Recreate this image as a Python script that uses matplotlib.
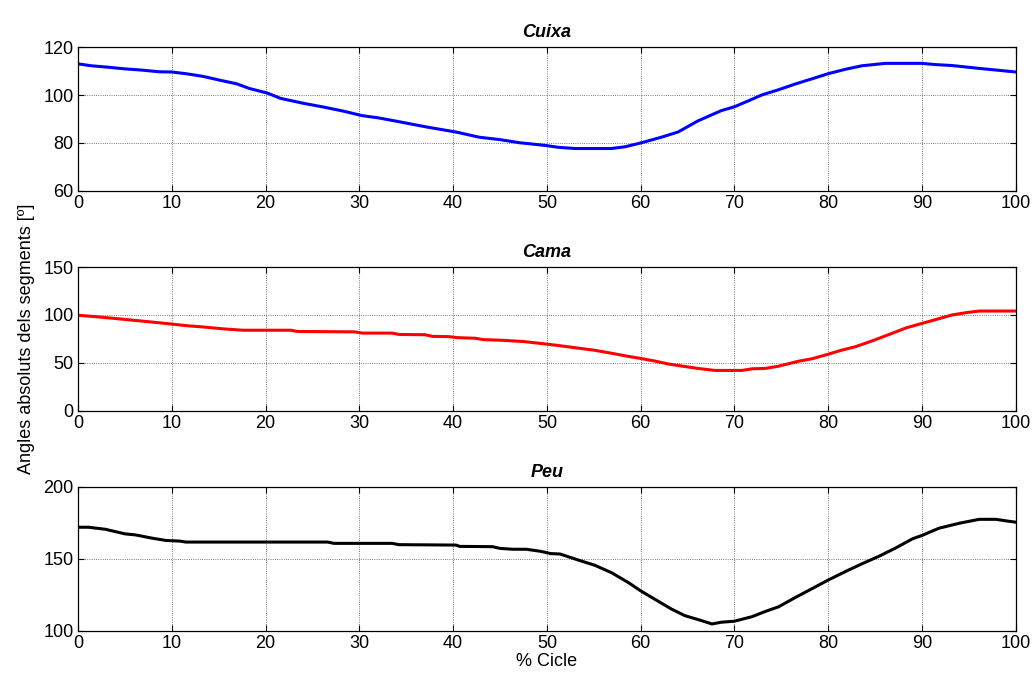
'''
Angles absoluts dels segments (cuixa, cama, peu) durant el cicle.
'''
import matplotlib
matplotlib.use('Agg')
import matplotlib.pyplot as plt

# Cuixa
cuixa_x = [0, 1.4, 3.2, 5, 6.8, 8.6, 10, 11.5, 13.3, 15.1, 16.9, 18.3, 20.2,
           21.6, 24.1, 26.3, 28.4, 30.3, 32, 34.2, 37, 40.4, 42.8, 45, 47.1,
           48.6, 50, 51.2, 53, 56.9, 58.3, 60, 62.2, 64, 66.1, 68.6, 70, 71.5,
           72.9, 74.7, 76.5, 78.3, 80, 81.8, 83.6, 86.1, 90, 91.4, 93.2, 96.1,
           98.2, 100]
cuixa_y = [113, 112.2, 111.6, 110.9, 110.4, 109.7, 109.6, 108.9, 107.8, 106.2,
           104.7, 102.7, 100.8, 98.6, 96.5, 94.9, 93.2, 91.4, 90.5, 88.9, 86.8,
           84.5, 82.4, 81.4, 80.1, 79.5, 78.9, 78.2, 77.7, 77.7, 78.4, 80, 82.4,
           84.6, 89.2, 93.5, 95.1, 97.6, 100, 102.2, 104.6, 106.8, 108.9, 110.7,
           112.2, 113.2, 113.2, 112.7, 112.3, 111.1, 110.3, 109.6]

# Cama
cama_x = [0, 1.8, 4, 5.8, 7.6, 10, 11.5, 13.7, 15.5, 17.6, 20.2, 22.7, 23.4,
          29.5, 30.3, 33.5, 34.2, 37, 37.8, 39.6, 40.4, 42.4, 43.2, 45.3, 47.5,
          48.9, 50, 51.2, 53.3, 55.1, 56.9, 58.7, 60, 61.5, 62.9, 64.7, 66.1,
          67.9, 70.8, 71.9, 73.3, 74.7, 76.8, 78.3, 80, 81.5, 82.9, 84.7, 86.5,
          88.3, 90, 91.5, 93.2, 94.7, 96.1, 100]
cama_y = [99.7, 98.3, 96.3, 94.6, 92.9, 90.5, 88.9, 87.2, 85.5, 84.1, 84.1,
          84.1, 82.8, 82.4, 81.1, 81.1, 79.7, 79.4, 77.7, 77.4, 76.4, 75.7,
          74.3, 73.6, 72.3, 70.8, 69.6, 68.2, 65.5, 63.2, 60.1, 56.8, 54.7, 52,
          49, 46.3, 44.3, 42.2, 42.2, 43.9, 44.3, 46.6, 51.7, 54.4, 59.1, 63.5,
          66.9, 73, 79.7, 86.5, 91.2, 95.3, 100, 102.4, 104.1, 104.1]

# Peu
peu_x = [0, 1.1, 2.9, 5, 6.1, 7.9, 9.4, 10.8, 11.5, 26.6, 27.3, 33.5, 34.2,
         40.3, 40.7, 44.2, 45, 46.4, 47.8, 49.3, 50.4, 51.4, 53.3, 55.1, 56.9,
         58.7, 60, 61.5, 63.3, 64.7, 66.5, 67.6, 68.6, 70, 71.9, 73.3, 74.7,
         76.5, 78.3, 80, 81.8, 83.6, 85.4, 87.2, 89, 90, 91.8, 94, 96.1, 97.9,
         99, 100]
peu_y = [172, 172, 170.6, 167.4, 166.7, 164.4, 162.8, 162.4, 161.7, 161.7,
         160.8, 160.8, 159.9, 159.6, 158.7, 158.5, 157.3, 156.7, 156.7, 155.3,
         153.7, 153.4, 149.3, 145.6, 140.4, 133.5, 127.8, 122, 115.1, 110.6,
         107.1, 104.8, 106, 106.7, 109.9, 113.5, 116.7, 123.2, 129.4, 135.3,
         141.1, 146.6, 151.8, 157.6, 164, 166.3, 171.3, 174.8, 177.5, 177.5,
         176.4, 175.5]

titols = ['Cuixa', 'Cama', 'Peu']
colors = ['#0000ff', '#ff0000', '#000000']
ylims = [(60, 120), (0, 150), (100, 200)]
yticks = [[60, 80, 100, 120], [0, 50, 100, 150], [100, 150, 200]]
xticks = list(range(0, 101, 10))

plt.rcParams['font.family'] = ['Liberation Sans', 'DejaVu Sans']
plt.rcParams['font.size'] = 13

fig = plt.figure(figsize=(10.35, 6.82), dpi=100)
tops = [0.931, 0.6085, 0.286]
height = 0.211
series = [(cuixa_x, cuixa_y), (cama_x, cama_y), (peu_x, peu_y)]

axes = []
for i in range(3):
    ax = fig.add_axes([0.0754, tops[i] - height, 0.906, height])
    xs, ys = series[i]
    ax.plot(xs, ys, color=colors[i], linewidth=2.2)
    ax.set_xlim(0, 100)
    ax.set_ylim(*ylims[i])
    ax.set_xticks(xticks)
    ax.set_yticks(yticks[i])
    ax.grid(True, color='black', linestyle=':', linewidth=0.6, alpha=0.7)
    ax.tick_params(direction='in', top=True, right=True, length=4.5,
                   width=0.8, labelsize=13, pad=3)
    for s in ax.spines.values():
        s.set_linewidth(0.9)
    ax.set_title(titols[i], fontweight='bold', fontstyle='italic',
                 fontsize=13, pad=7)
    axes.append(ax)

axes[1].set_ylabel('Angles absoluts dels segments [º]', fontsize=13,
                   labelpad=6)
axes[2].set_xlabel('% Cicle', fontsize=13, labelpad=1)

fig.savefig('out.png', dpi=100)
